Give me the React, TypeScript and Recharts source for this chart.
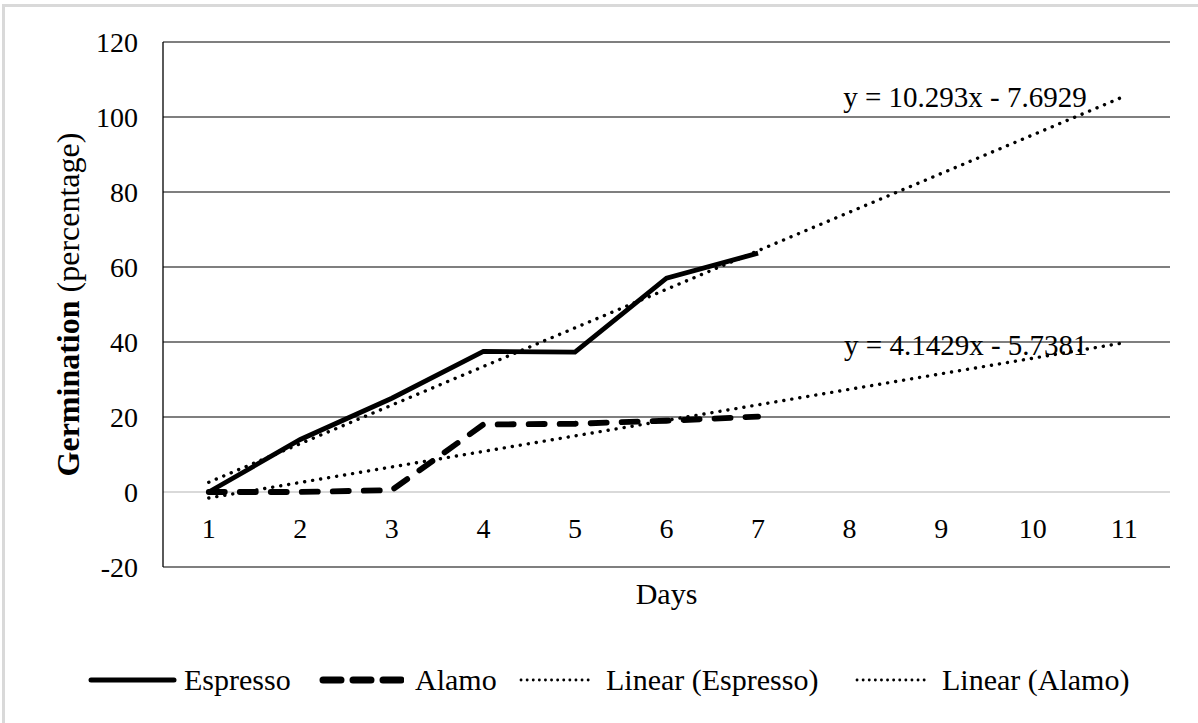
import React from 'react';
import { LineChart, Line, XAxis, YAxis, CartesianGrid, ReferenceLine, ReferenceDot, Label } from 'recharts';

const days = [1, 2, 3, 4, 5, 6, 7];
const espressoValues = [0, 14, 25, 37.5, 37.3, 57, 63.7];
const alamoValues = [0, 0, 0.5, 18, 18.2, 19, 20.1];
const trendDays = [1, 11];
const trendEspressoValues = [2.6, 105.5];
const trendAlamoValues = [-1.6, 39.8];
const xTicks = [1, 2, 3, 4, 5, 6, 7, 8, 9, 10, 11];
const yTicks = [-20, 0, 20, 40, 60, 80, 100, 120];
const equationTexts = ['y = 10.293x - 7.6929', 'y = 4.1429x - 5.7381'];
const equationAnchors = [
  { x: 9.26, y: 105.5 },
  { x: 9.27, y: 39.3 },
];
const legendNames = ['Espresso', 'Alamo', 'Linear (Espresso)', 'Linear (Alamo)'];
const legendSampleLeft = [88, 319, 518, 854];
const legendSampleWidth = [89, 85, 78, 78];
const legendTextLeft = [184, 415, 606, 942];

const espressoData = days.map((d, i) => ({ day: d, value: espressoValues[i] }));
const alamoData = days.map((d, i) => ({ day: d, value: alamoValues[i] }));
const trendEspressoData = trendDays.map((d, i) => ({ day: d, value: trendEspressoValues[i] }));
const trendAlamoData = trendDays.map((d, i) => ({ day: d, value: trendAlamoValues[i] }));

const FONT = '"Liberation Serif", "Times New Roman", serif';
const FS = 29;

const XTick = (props: any) => {
  const { x, y, payload } = props;
  return (
    <text x={x} y={y - 29} textAnchor="middle" fontFamily={FONT} fontSize={FS - 1} fill="#000">
      {payload.value}
    </text>
  );
};

const YTitle = (props: any) => {
  const vb = props.viewBox || { x: 103, y: 42, width: 60, height: 525 };
  const cx = vb.x - 35;
  const cy = vb.y + vb.height / 2;
  return (
    <text
      x={cx}
      y={cy}
      transform={`rotate(-90, ${cx}, ${cy})`}
      textAnchor="middle"
      dominantBaseline="central"
      fontFamily={FONT}
      fontSize={FS + 3}
      fill="#000"
    >
      <tspan fontWeight="bold">Germination</tspan>
      <tspan> (percentage)</tspan>
    </text>
  );
};

const LegendSample = ({ kind, width }: { kind: number; width: number }) => {
  if (kind === 0)
    return (
      <svg width={width} height={12} style={{ display: 'block' }}>
        <line x1={3} y1={6} x2={width - 3} y2={6} stroke="#000" strokeWidth={5} strokeLinecap="round" />
      </svg>
    );
  if (kind === 1)
    return (
      <svg width={width} height={12} style={{ display: 'block' }}>
        <line x1={4} y1={6} x2={width - 3} y2={6} stroke="#000" strokeWidth={7} strokeLinecap="round" strokeDasharray="18 12" />
      </svg>
    );
  return (
    <svg width={width} height={12} style={{ display: 'block' }}>
      <line x1={3} y1={6} x2={width - 3} y2={6} stroke="#000" strokeWidth={2.8} strokeLinecap="round" strokeDasharray="0.1 6" />
    </svg>
  );
};

export default function App() {
  return (
    <div style={{ position: 'absolute', left: 0, top: 0, width: 1198, height: 723, background: '#fff', overflow: 'hidden' }}>
      <div
        style={{
          position: 'absolute',
          left: 2,
          top: 4,
          width: 1300,
          height: 800,
          borderTop: '3px solid #d9d9d9',
          borderLeft: '3px solid #d9d9d9',
        }}
      />
      <div style={{ position: 'absolute', left: 0, top: 0 }}>
        <LineChart width={1198} height={723} margin={{ top: 42, right: 28, bottom: 126, left: 103 }}>
          <CartesianGrid vertical={false} stroke="#000" strokeWidth={1.2} />
          <XAxis
            dataKey="day"
            type="number"
            domain={[0.5, 11.5]}
            ticks={xTicks}
            axisLine={false}
            tickLine={false}
            tickSize={0}
            tickMargin={0}
            height={30}
            tick={<XTick />}
            interval={0}
            allowDataOverflow
          >
            <Label value="Days" position="bottom" offset={-14} fontFamily={FONT} fontSize={FS + 1} fill="#000" />
          </XAxis>
          <YAxis
            type="number"
            domain={[-20, 120]}
            ticks={yTicks}
            width={60}
            axisLine={{ stroke: '#000', strokeWidth: 1.3 }}
            tickLine={false}
            tickSize={0}
            tickMargin={25}
            tick={{ fontFamily: FONT, fontSize: FS - 1, fill: '#000' }}
            interval={0}
            label={{ content: <YTitle /> }}
          />
          <ReferenceLine y={0} stroke="#d9d9d9" strokeWidth={2} />
          <Line
            data={trendEspressoData}
            dataKey="value"
            type="linear"
            stroke="#000"
            strokeWidth={3.4}
            strokeLinecap="round"
            strokeDasharray="0.1 8"
            dot={false}
            isAnimationActive={false}
          />
          <Line
            data={trendAlamoData}
            dataKey="value"
            type="linear"
            stroke="#000"
            strokeWidth={3.4}
            strokeLinecap="round"
            strokeDasharray="0.1 8"
            dot={false}
            isAnimationActive={false}
          />
          <Line
            data={espressoData}
            dataKey="value"
            type="linear"
            stroke="#000"
            strokeWidth={4.8}
            dot={false}
            isAnimationActive={false}
          />
          <Line
            data={alamoData}
            dataKey="value"
            type="linear"
            stroke="#000"
            strokeWidth={5.8}
            strokeLinecap="round"
            strokeDasharray="16 15"
            dot={false}
            isAnimationActive={false}
          />
          {equationTexts.map((t, i) => (
            <ReferenceDot
              key={t}
              x={equationAnchors[i].x}
              y={equationAnchors[i].y}
              r={0}
              fill="none"
              stroke="none"
              label={{ value: t, position: 'center', fontFamily: FONT, fontSize: FS, fill: '#000' }}
            />
          ))}
        </LineChart>
      </div>
      {legendNames.map((n, i) => (
        <React.Fragment key={n}>
          <div style={{ position: 'absolute', left: legendSampleLeft[i], top: 674 }}>
            <LegendSample kind={i} width={legendSampleWidth[i]} />
          </div>
          <div
            style={{
              position: 'absolute',
              left: legendTextLeft[i],
              top: 680,
              transform: 'translateY(-50%)',
              fontFamily: FONT,
              fontSize: FS + 1,
              lineHeight: 1,
              color: '#000',
              whiteSpace: 'nowrap',
            }}
          >
            {n}
          </div>
        </React.Fragment>
      ))}
    </div>
  );
}
